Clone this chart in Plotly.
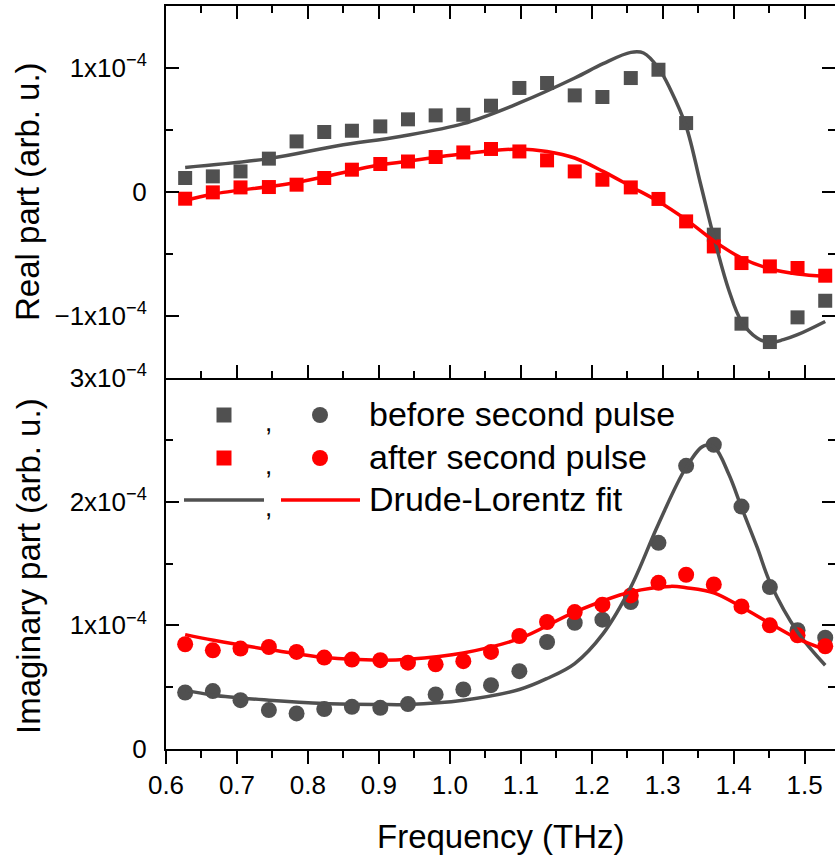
import plotly.graph_objects as go

# Frequency grid of the measured spectra (THz)
freq = [0.627, 0.666, 0.705, 0.745, 0.784, 0.823, 0.862, 0.902, 0.941, 0.980,
        1.019, 1.058, 1.098, 1.137, 1.176, 1.215, 1.255, 1.294, 1.333, 1.372,
        1.411, 1.451, 1.490, 1.529]

# All amplitudes below are in units of 1e-4 (arb. u.)
SCALE = 1e-4

real_before = [0.113, 0.126, 0.166, 0.269, 0.408, 0.484, 0.494, 0.529, 0.586, 0.618,
               0.623, 0.696, 0.839, 0.879, 0.779, 0.766, 0.919, 0.986, 0.556, -0.344,
               -1.062, -1.210, -1.011, -0.877]
real_after = [-0.054, -0.003, 0.037, 0.040, 0.059, 0.113, 0.180, 0.226, 0.246, 0.282,
              0.319, 0.347, 0.327, 0.255, 0.166, 0.099, 0.037, -0.056, -0.237, -0.439,
              -0.573, -0.600, -0.613, -0.675]
imag_before = [0.457, 0.468, 0.395, 0.315, 0.288, 0.323, 0.341, 0.333, 0.363, 0.441,
               0.481, 0.516, 0.629, 0.865, 1.021, 1.046, 1.188, 1.667, 2.290, 2.460,
               1.960, 1.309, 0.960, 0.900]
imag_after = [0.847, 0.798, 0.812, 0.825, 0.785, 0.739, 0.723, 0.718, 0.698, 0.685,
              0.710, 0.785, 0.914, 1.027, 1.107, 1.167, 1.242, 1.344, 1.409, 1.331,
              1.153, 1.000, 0.919, 0.831]

# Drude-Lorentz fit curves
fit_real_before_f = [0.627, 0.745, 0.842, 0.930, 1.019, 1.098, 1.176, 1.216, 1.255, 1.273,
                     1.294, 1.311, 1.333, 1.353, 1.373, 1.393, 1.411, 1.433, 1.452, 1.470,
                     1.490, 1.529]
fit_real_before = [0.198, 0.269, 0.373, 0.448, 0.551, 0.718, 0.919, 1.035, 1.126, 1.121,
                   1.000, 0.825, 0.529, 0.073, -0.385, -0.788, -1.044, -1.177, -1.213, -1.191,
                   -1.151, -1.044]
fit_real_after_f = [0.627, 0.667, 0.784, 0.902, 0.930, 1.019, 1.098, 1.137, 1.176, 1.216,
                    1.255, 1.294, 1.333, 1.373, 1.411, 1.452, 1.490, 1.529]
fit_real_after = [-0.068, -0.016, 0.077, 0.220, 0.239, 0.309, 0.347, 0.327, 0.274, 0.166,
                  0.045, -0.076, -0.223, -0.398, -0.532, -0.621, -0.661, -0.680]
fit_imag_before_f = [0.627, 0.667, 0.745, 0.824, 0.902, 0.941, 1.019, 1.098, 1.137, 1.176,
                     1.216, 1.255, 1.294, 1.333, 1.358, 1.373, 1.393, 1.411, 1.433, 1.452,
                     1.490, 1.529]
fit_imag_before = [0.476, 0.435, 0.395, 0.368, 0.360, 0.360, 0.395, 0.481, 0.570, 0.691,
                   0.933, 1.309, 1.820, 2.277, 2.452, 2.438, 2.223, 1.954, 1.632, 1.336,
                   0.946, 0.677]
fit_imag_after_f = [0.627, 0.667, 0.745, 0.824, 0.902, 0.941, 1.019, 1.098, 1.176, 1.255,
                    1.311, 1.333, 1.373, 1.411, 1.452, 1.490, 1.529]
fit_imag_after = [0.925, 0.879, 0.804, 0.739, 0.718, 0.725, 0.777, 0.893, 1.107, 1.269,
                  1.315, 1.304, 1.261, 1.148, 1.013, 0.893, 0.804]

x_ticks = [0.6, 0.7, 0.8, 0.9, 1.0, 1.1, 1.2, 1.3, 1.4, 1.5]
real_ticks = [-1, 0, 1]
real_ticktext = ["\u22121x10<sup>\u22124</sup>", "0", "1x10<sup>\u22124</sup>"]
imag_ticks = [0, 1, 2, 3]
imag_ticktext = ["0", "1x10<sup>\u22124</sup>", "2x10<sup>\u22124</sup>", "3x10<sup>\u22124</sup>"]

legend_rows = ["before second pulse", "after second pulse", "Drude-Lorentz fit"]

GREY = "#505050"
RED = "#ff0000"
FONT = "Arial, 'Liberation Sans', sans-serif"

W, H = 835, 856
L, R, T, B = 166, 0, 6, 107
PW, PH = W - L - R, H - T - B
SPLIT = (749 - 378) / PH


def sc(vals):
    return [v * SCALE for v in vals]


def px_x(p):
    return (p - L) / PW


def px_y(p):
    return (H - B - p) / PH


fig = go.Figure()

# top panel: real part
fig.add_trace(go.Scatter(x=freq, y=sc(real_before), mode="markers", xaxis="x2", yaxis="y2",
                         marker=dict(symbol="square", size=14, color=GREY), showlegend=False))
fig.add_trace(go.Scatter(x=freq, y=sc(real_after), mode="markers", xaxis="x2", yaxis="y2",
                         marker=dict(symbol="square", size=14, color=RED), showlegend=False))
fig.add_trace(go.Scatter(x=fit_real_before_f, y=sc(fit_real_before), mode="lines", xaxis="x2", yaxis="y2",
                         line=dict(color=GREY, width=3.5, shape="spline", smoothing=1.0), showlegend=False))
fig.add_trace(go.Scatter(x=fit_real_after_f, y=sc(fit_real_after), mode="lines", xaxis="x2", yaxis="y2",
                         line=dict(color=RED, width=3.5, shape="spline", smoothing=1.0), showlegend=False))

# bottom panel: imaginary part
fig.add_trace(go.Scatter(x=freq, y=sc(imag_before), mode="markers",
                         marker=dict(symbol="circle", size=16, color=GREY), showlegend=False))
fig.add_trace(go.Scatter(x=freq, y=sc(imag_after), mode="markers",
                         marker=dict(symbol="circle", size=16, color=RED), showlegend=False))
fig.add_trace(go.Scatter(x=fit_imag_before_f, y=sc(fit_imag_before), mode="lines",
                         line=dict(color=GREY, width=3.5, shape="spline", smoothing=1.0), showlegend=False))
fig.add_trace(go.Scatter(x=fit_imag_after_f, y=sc(fit_imag_after), mode="lines",
                         line=dict(color=RED, width=3.5, shape="spline", smoothing=1.0), showlegend=False))

x_range = [0.6, 0.6 + (W - L) / 709.6]
axis_common = dict(showline=True, linecolor="black", linewidth=2, tickcolor="black",
                   tickwidth=2, ticklen=13, showgrid=False, zeroline=False, automargin=False,
                   tickfont=dict(family=FONT, size=26, color="black"))
x_minor_in = dict(ticks="inside", dtick=0.05, tick0=0.6, ticklen=7, tickwidth=2, tickcolor="black")
x_minor_out = dict(ticks="outside", dtick=0.05, tick0=0.6, ticklen=7, tickwidth=2, tickcolor="black")

fig.update_layout(
    width=W, height=H,
    margin=dict(l=L, r=R, t=T, b=B, pad=0, autoexpand=False),
    paper_bgcolor="white", plot_bgcolor="white",
    font=dict(family=FONT, color="black"),
    xaxis=dict(axis_common, range=x_range, domain=[0, 1], anchor="y", ticks="outside",
               tickmode="array", tickvals=x_ticks, tickformat=".1f",
               minor=x_minor_out, mirror=False, ticklabelstandoff=-1),
    xaxis3=dict(axis_common, range=x_range, overlaying="x", anchor="y", side="top",
                ticks="inside", tickmode="array", tickvals=x_ticks, showticklabels=False,
                minor=x_minor_in),
    xaxis2=dict(axis_common, range=x_range, domain=[0, 1], anchor="y2", ticks="inside",
                tickmode="array", tickvals=x_ticks, showticklabels=False, mirror="ticks",
                minor=x_minor_in),
    yaxis=dict(axis_common, range=[0, 3 * SCALE], domain=[0, SPLIT], anchor="x", ticks="inside",
               mirror="ticks", tickmode="array", tickvals=sc(imag_ticks), ticktext=imag_ticktext,
               minor=dict(ticks="inside", tickmode="array", tickvals=sc([0.5, 1.5, 2.5]),
                          ticklen=7, tickwidth=2, tickcolor="black"),
               ticklabelstandoff=12),
    yaxis2=dict(axis_common, range=[-1.5 * SCALE, 1.5 * SCALE], domain=[SPLIT, 1], anchor="x2",
                ticks="inside", mirror="ticks", tickmode="array", tickvals=sc(real_ticks),
                ticktext=real_ticktext,
                minor=dict(ticks="inside", tickmode="array", tickvals=sc([-0.5, 0.5]),
                           ticklen=7, tickwidth=2, tickcolor="black"),
                ticklabelstandoff=12),
)

annotations = [
    dict(text="Frequency (THz)", x=0.5, y=px_y(836), xref="paper", yref="paper",
         xanchor="center", yanchor="middle", showarrow=False, font=dict(size=33)),
    dict(text="Real part (arb. u.)", x=px_x(28), y=px_y(192), xref="paper", yref="paper",
         textangle=-90, xanchor="center", yanchor="middle", showarrow=False, font=dict(size=33)),
    dict(text="Imaginary part (arb. u.)", x=px_x(28), y=px_y(566), xref="paper", yref="paper",
         textangle=-90, xanchor="center", yanchor="middle", showarrow=False, font=dict(size=33)),
]

# legend block inside the lower panel
row_y = [414, 457, 499]
shapes = []
for i, (label, ry) in enumerate(zip(legend_rows, row_y)):
    annotations.append(dict(text=label, x=px_x(367), y=px_y(ry), xref="paper", yref="paper",
                            xanchor="left", yanchor="middle", showarrow=False, font=dict(size=34)))
    annotations.append(dict(text=",", x=px_x(268), y=px_y(ry + 8), xref="paper", yref="paper",
                            xanchor="center", yanchor="middle", showarrow=False, font=dict(size=26)))
    if i < 2:
        col = GREY if i == 0 else RED
        shapes.append(dict(type="rect", xref="paper", yref="paper",
                           x0=px_x(224 - 7.5), x1=px_x(224 + 7.5), y0=px_y(ry + 8.5), y1=px_y(ry - 6.5),
                           fillcolor=col, line=dict(width=0)))
        shapes.append(dict(type="circle", xref="paper", yref="paper",
                           x0=px_x(320 - 8), x1=px_x(320 + 8), y0=px_y(ry + 9), y1=px_y(ry - 7),
                           fillcolor=col, line=dict(width=0)))
    else:
        shapes.append(dict(type="line", xref="paper", yref="paper",
                           x0=px_x(184), x1=px_x(264), y0=px_y(ry + 1), y1=px_y(ry + 1),
                           line=dict(color=GREY, width=3.5)))
        shapes.append(dict(type="line", xref="paper", yref="paper",
                           x0=px_x(281), x1=px_x(360), y0=px_y(ry + 1), y1=px_y(ry + 1),
                           line=dict(color=RED, width=3.5)))

fig.update_layout(annotations=annotations, shapes=shapes)

fig.write_html("out.html")
